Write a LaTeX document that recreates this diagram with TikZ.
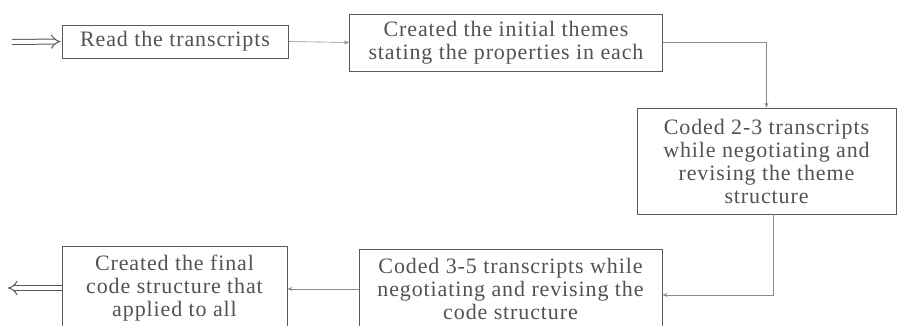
\documentclass[tikz,border=0pt]{standalone}
\usepackage{fontspec}
\setmainfont[LetterSpace=4]{Liberation Serif}
\usetikzlibrary{arrows.meta}
\begin{document}
\begin{tikzpicture}[x=1pt,y=-1pt,>={Stealth[length=5pt,width=4pt]},
  box/.style={draw=black!65,line width=0.9pt,rectangle,inner sep=0pt,align=center,
    text=black!68,font=\fontsize{22}{23}\selectfont},
  link/.style={->,draw=black!45,line width=0.6pt},
  fat/.style={double=white,draw=black!65,double distance=4pt,line width=1pt,-{Implies}}]
\useasboundingbox (0,0) rectangle (898,325);
\clip (0,0) rectangle (898,325);
\coordinate (in) at (12,42);
\coordinate (out) at (8,288);
\node[box,minimum width=226,minimum height=33] (B1) at (175,41.5) {Read the transcripts};
\node[box,minimum width=313,minimum height=57] (B2) at (506,42.5) {Created the initial themes\\stating the properties in each};
\node[box,minimum width=259,minimum height=106] (B3) at (766.5,161) {Coded 2-3 transcripts\\while negotiating and\\revising the theme\\structure};
\node[box,minimum width=303,minimum height=80] (B4) at (510.5,289) {Coded 3-5 transcripts while\\negotiating and revising the\\code structure};
\node[box,minimum width=225,minimum height=84] (B5) at (174.5,288) {Created the final\\code structure that\\applied to all};
\draw[fat] (in) -- ([xshift=-1pt]B1.west);
\draw[link] (B1.east) -- (B2.west);
\draw[link] (B2.east) -| (B3.north);
\draw[link] ([xshift=7pt]B3.south) |- ([yshift=-6pt]B4.east);
\draw[link] (B4.west) -- (B4.west -| B5.east);
\draw[fat] (B5.west) -- (out);
\end{tikzpicture}
\end{document}
